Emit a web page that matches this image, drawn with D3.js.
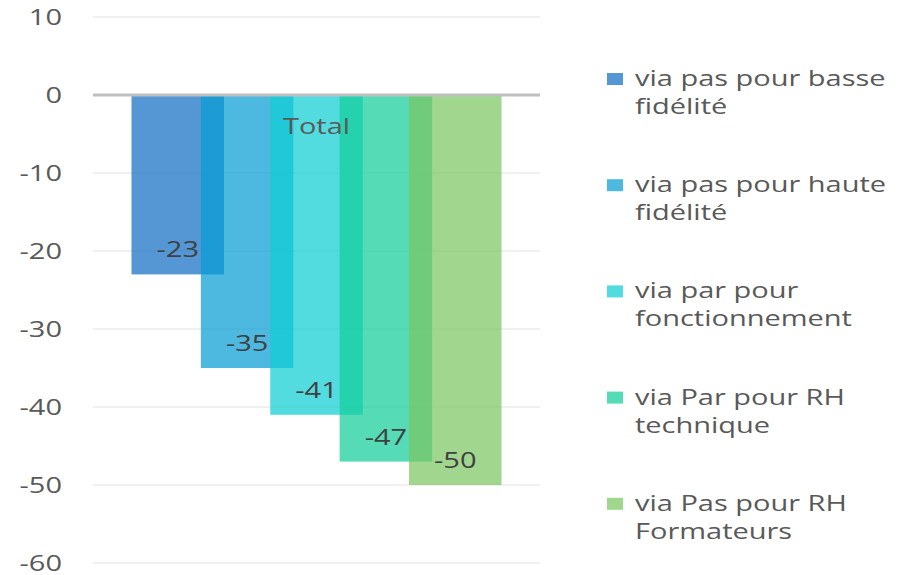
<!DOCTYPE html>
<html>
<head>
<meta charset="utf-8">
<script src="https://cdn.jsdelivr.net/npm/d3@7"></script>
<style>
  body { margin: 0; background: #fff; }
  text { font-family: "Open Sans", sans-serif; }
</style>
</head>
<body>
<svg id="chart" width="899" height="575"></svg>
<script>
// data
const categories = ["Total"];
const seriesNames = [
    ["via pas pour basse", "fidélité"],
    ["via pas pour haute", "fidélité"],
    ["via par pour", "fonctionnement"],
    ["via Par pour RH", "technique"],
    ["via Pas pour RH", "Formateurs"]
];
const seriesValues = [-23, -35, -41, -47, -50];
const seriesColors = ["#136dc3", "#089cd4", "#0fced4", "#14ce9a", "#7bc662"];
const yTicks = [10, 0, -10, -20, -30, -40, -50, -60];

// the original picture is stretched sideways, so text is too
const STRETCH = 1.38;
const fontSize = 21;
const barOpacity = 0.72;
const overlap = 0.25;

let svg = d3.select('svg#chart');

let plot = { left: 93, right: 540, top: 17, bottom: 563 };

let y = d3.scaleLinear().domain([-60, 10]).range([plot.bottom, plot.top]);
let x0 = d3.scaleBand().domain(categories).range([plot.left, plot.right]).paddingOuter(0.104);

let barWidth = x0.bandwidth() / (1 + (seriesValues.length - 1) * (1 - overlap));
let step = barWidth * (1 - overlap);
let x1 = d3.scaleLinear().domain([0, 1]).range([0, step]);

// gridlines
svg.append('g').selectAll('line')
    .data(yTicks.filter(t => t !== 0))
    .enter()
    .append('line')
    .attr('x1', plot.left)
    .attr('x2', plot.right)
    .attr('y1', d => y(d))
    .attr('y2', d => y(d))
    .attr('stroke', '#ebebeb')
    .attr('stroke-width', 1.5);

// tick labels
svg.append('g').selectAll('text')
    .data(yTicks)
    .enter()
    .append('text')
    .attr('transform', d => `translate(62,${y(d)}) scale(${STRETCH},1)`)
    .attr('dy', '0.36em')
    .attr('text-anchor', 'end')
    .attr('font-size', fontSize)
    .attr('fill', '#595959')
    .text(d => d);

// bars
let bars = seriesValues.map((v, i) => ({ v: v, i: i, cat: categories[0] }));

svg.append('g').selectAll('rect')
    .data(bars)
    .enter()
    .append('rect')
    .attr('x', d => x0(d.cat) + x1(d.i))
    .attr('width', barWidth)
    .attr('y', d => y(Math.max(0, d.v)))
    .attr('height', d => Math.abs(y(d.v) - y(0)))
    .attr('fill', d => seriesColors[d.i])
    .attr('fill-opacity', barOpacity);

// zero line
svg.append('line')
    .attr('x1', plot.left)
    .attr('x2', plot.right)
    .attr('y1', y(0))
    .attr('y2', y(0))
    .attr('stroke', '#bfbfbf')
    .attr('stroke-width', 3);

// category label
svg.append('text')
    .attr('transform', `translate(${x0(categories[0]) + x0.bandwidth() / 2},134) scale(${STRETCH},1)`)
    .attr('text-anchor', 'middle')
    .attr('font-size', fontSize)
    .attr('fill', '#595959')
    .text(categories[0]);

// data labels
svg.append('g').selectAll('text')
    .data(bars)
    .enter()
    .append('text')
    .attr('transform', d => `translate(${x0(d.cat) + x1(d.i) + barWidth / 2},${y(d.v) - 17}) scale(${STRETCH},1)`)
    .attr('text-anchor', 'middle')
    .attr('font-size', fontSize)
    .attr('fill', '#404040')
    .text(d => d.v);

// legend
let legend = svg.append('g').selectAll('g')
    .data(seriesNames)
    .enter()
    .append('g')
    .attr('transform', (d, i) => `translate(607,${86 + i * 106.2})`);

legend.append('rect')
    .attr('x', 0)
    .attr('y', -13)
    .attr('width', 16)
    .attr('height', 12)
    .attr('fill', (d, i) => seriesColors[i])
    .attr('fill-opacity', barOpacity);

legend.append('text')
    .attr('transform', `translate(28,0) scale(${STRETCH},1)`)
    .attr('font-size', fontSize)
    .attr('fill', '#595959')
    .selectAll('tspan')
    .data(d => d)
    .enter()
    .append('tspan')
    .attr('x', 0)
    .attr('y', (d, j) => j * 28)
    .text(d => d);
</script>
</body>
</html>
